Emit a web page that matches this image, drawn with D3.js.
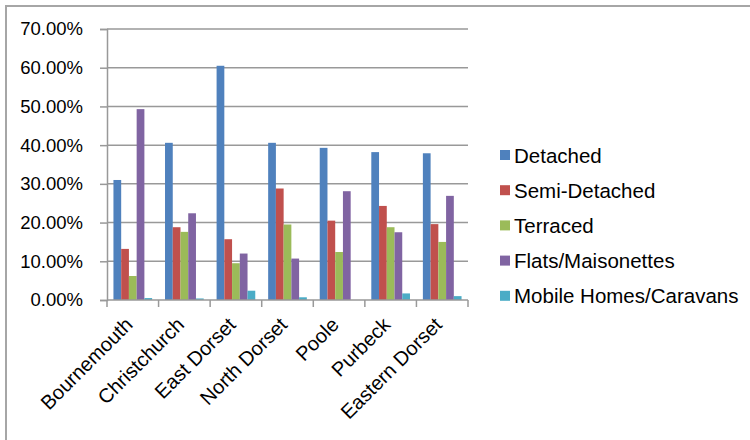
<!DOCTYPE html>
<html>
<head>
<meta charset="utf-8">
<script src="https://cdn.jsdelivr.net/npm/d3@7"></script>
<style>
  html, body { margin: 0; padding: 0; background: #fff; }
  svg { display: block; }
  text { font-family: "Liberation Sans", Arial, sans-serif; fill: #000; }
</style>
</head>
<body>
<svg id="chart" width="750" height="440"></svg>
<script>
// Dwelling type shares by district (fractions)
const districts = ["Bournemouth", "Christchurch", "East Dorset", "North Dorset", "Poole", "Purbeck", "Eastern Dorset"];
const seriesNames = ["Detached", "Semi-Detached", "Terraced", "Flats/Maisonettes", "Mobile Homes/Caravans"];
const detached      = [0.310, 0.406, 0.605, 0.406, 0.393, 0.382, 0.379];
const semiDetached  = [0.132, 0.188, 0.157, 0.288, 0.205, 0.243, 0.196];
const terraced      = [0.062, 0.176, 0.095, 0.195, 0.124, 0.188, 0.150];
const flats         = [0.493, 0.224, 0.120, 0.107, 0.281, 0.175, 0.269];
const mobileHomes   = [0.005, 0.004, 0.024, 0.007, 0.000, 0.017, 0.010];
const yTicks = [0, 0.1, 0.2, 0.3, 0.4, 0.5, 0.6, 0.7];
const colors = ["#4F81BD", "#C0504D", "#9BBB59", "#8064A2", "#4BACC6"];

const seriesValues = [detached, semiDetached, terraced, flats, mobileHomes];

const svg = d3.select("#chart");

// chart area frame
svg.append("rect")
  .attr("x", 6).attr("y", 6)
  .attr("width", 780).attr("height", 470)
  .attr("fill", "#fff")
  .attr("stroke", "#a6a6a6").attr("stroke-width", 2);

const plot = { left: 107, right: 468, top: 29, bottom: 300 };

const x0 = d3.scaleBand().domain(districts).range([plot.left, plot.right]).paddingInner(0.25).paddingOuter(0.125);
const x1 = d3.scaleBand().domain(seriesNames).range([0, x0.bandwidth()]);
const y = d3.scaleLinear().domain([0, 0.7]).range([plot.bottom, plot.top]);

// horizontal gridlines
svg.append("g")
  .selectAll("line")
  .data(yTicks.filter(t => t > 0))
  .join("line")
  .attr("x1", plot.left).attr("x2", plot.right)
  .attr("y1", d => y(d)).attr("y2", d => y(d))
  .attr("stroke", "#999").attr("stroke-width", 1.5);

// y axis
const yAxis = svg.append("g")
  .attr("transform", `translate(${plot.left},0)`)
  .call(d3.axisLeft(y).tickValues(yTicks).tickFormat(d3.format(".2%")).tickSize(7).tickPadding(17));
yAxis.select(".domain").attr("stroke", "#999").attr("stroke-width", 1.5);
yAxis.selectAll(".tick line").attr("stroke", "#999").attr("stroke-width", 1.5);
yAxis.selectAll(".tick text").attr("font-size", 18.5).attr("font-family", "Liberation Sans, Arial, sans-serif").attr("fill", "#000");

// bars
const groups = svg.append("g")
  .selectAll("g")
  .data(districts)
  .join("g")
  .attr("transform", d => `translate(${x0(d)},0)`);

groups.selectAll("rect")
  .data((d, i) => seriesNames.map((s, j) => ({ s, j, v: seriesValues[j][i] })))
  .join("rect")
  .attr("x", d => x1(d.s))
  .attr("width", x1.bandwidth())
  .attr("y", d => y(d.v))
  .attr("height", d => y(0) - y(d.v))
  .attr("fill", d => colors[d.j]);

// x axis with category boundaries as ticks
const xAxisG = svg.append("g").attr("transform", `translate(0,${plot.bottom})`);
xAxisG.append("line")
  .attr("x1", plot.left).attr("x2", plot.right)
  .attr("stroke", "#999").attr("stroke-width", 1.5);
const boundaries = d3.range(districts.length + 1).map(i => plot.left + i * (plot.right - plot.left) / districts.length);
xAxisG.selectAll("line.tk")
  .data(boundaries)
  .join("line")
  .attr("class", "tk")
  .attr("x1", d => d).attr("x2", d => d)
  .attr("y1", 0).attr("y2", 7)
  .attr("stroke", "#999").attr("stroke-width", 1.5);

xAxisG.selectAll("text")
  .data(districts)
  .join("text")
  .attr("transform", d => `translate(${x0(d) + x0.bandwidth() / 2 + 1},${26}) rotate(-45)`)
  .attr("text-anchor", "end")
  .attr("font-size", 20)
  .text(d => d);

// legend
const legend = svg.append("g");
const legendRows = legend.selectAll("g")
  .data(seriesNames)
  .join("g")
  .attr("transform", (d, i) => `translate(500,${155 + i * 35.2})`);
legendRows.append("rect")
  .attr("x", 0).attr("y", -5)
  .attr("width", 10).attr("height", 10)
  .attr("fill", (d, i) => colors[i]);
legendRows.append("text")
  .attr("x", 14).attr("y", 7.5)
  .attr("font-size", 20.5)
  .text(d => d);
</script>
</body>
</html>
